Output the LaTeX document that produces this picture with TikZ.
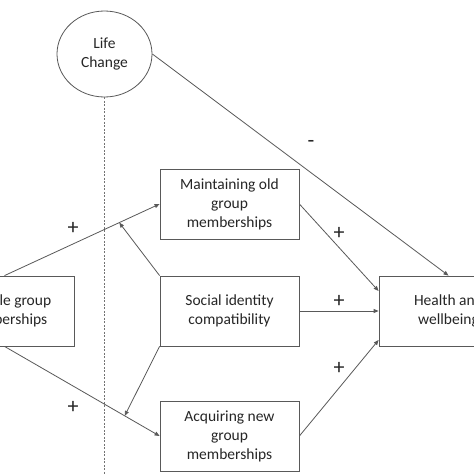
\documentclass[tikz,border=0pt]{standalone}
\usepackage{fontspec}
\setmainfont{Carlito}
\usetikzlibrary{shapes.geometric,arrows.meta}
\begin{document}
\begin{tikzpicture}[x=1pt,y=-1pt,
 box/.style={draw=black!65, line width=0.8pt, minimum width=139pt, minimum height=70pt, align=center, inner sep=0pt, font=\fontsize{15.5}{19}\selectfont, text=black!85},
 conn/.style={draw=black!65, line width=0.8pt, -{Triangle[length=5pt,width=4pt]}},
 plain/.style={draw=black!65, line width=0.8pt},
 dashline/.style={draw=black!55, line width=0.6pt, dash pattern=on 2pt off 1.5pt},
 sign/.style={font=\fontsize{22}{22}\selectfont, text=black!85}]
\useasboundingbox (0,0) rectangle (474,474);
\clip (0,0) rectangle (474,474);
\fill[white] (0,0) rectangle (474,474);

\node[ellipse, draw=black!65, line width=0.8pt, minimum width=95pt, minimum height=86pt, inner sep=0pt, align=center, font=\fontsize{15.5}{19}\selectfont, text=black!85] (life) at (104.5,54) {Life\\Change};
\coordinate (dashend) at (104.5,474);
\draw[dashline] (life.south) -- (dashend);

\node[box] (multi) at (4.5,311) {Multiple group\\memberships};
\node[box] (maint) at (229.5,204) {Maintaining old\\group\\memberships};
\node[box] (social) at (229.5,311) {Social identity\\compatibility};
\node[box] (acq) at (229.5,436) {Acquiring new\\group\\memberships};
\node[box] (health) at (448.5,311) {Health and\\wellbeing};

\draw[conn] (multi.north) -- coordinate[pos=0.74] (p1) (maint.west);
\draw[conn] (multi.south) -- coordinate[pos=0.775] (p2) (acq.west);
\draw[conn] (social.north west) -- (p1);
\draw[conn] (social.south west) -- (p2);
\draw[conn] (life.east) -- (health.north);
\draw[conn] (maint.east) -- ([yshift=20pt]health.west);
\draw[conn] (social.east) -- (health.west);
\draw[conn] (acq.east) -- ([yshift=-29pt]health.west);

\node[sign] (s1) at (73,228) {+};
\node[sign] (s2) at (73,407) {+};
\node[sign] (s3) at (311,144) {-};
\node[sign] (s4) at (339,233) {+};
\node[sign] (s5) at (339,301) {+};
\node[sign] (s6) at (339,368) {+};
\end{tikzpicture}
\end{document}
